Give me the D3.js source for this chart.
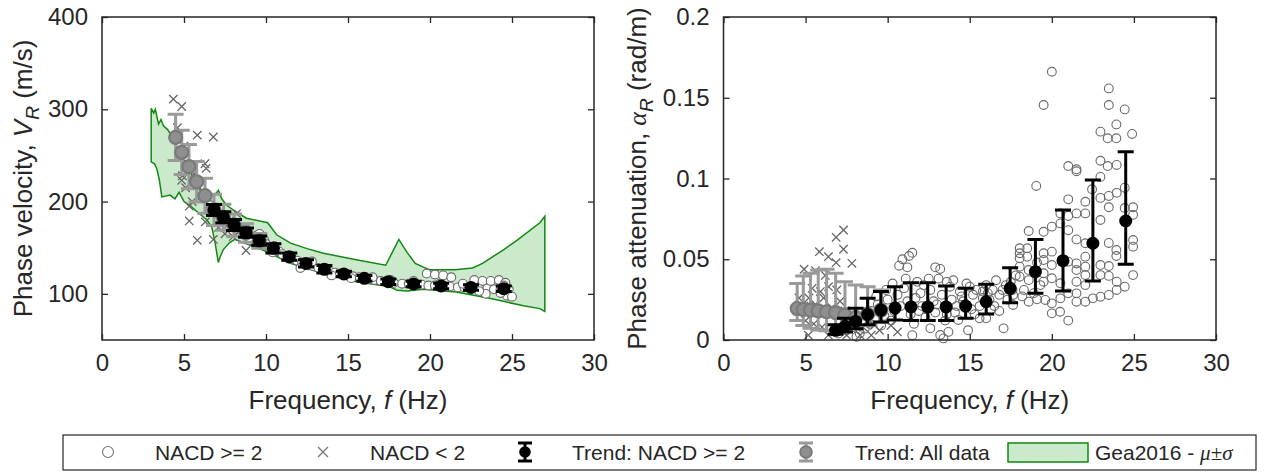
<!DOCTYPE html>
<html>
<head>
<meta charset="utf-8">
<script src="https://cdn.jsdelivr.net/npm/d3@7"></script>
<style>
  body { margin: 0; background: #fff; }
  svg { font-family: "Liberation Sans", Arial, sans-serif; }
</style>
</head>
<body>
<svg id="fig" width="1266" height="472"></svg>
<script>
// ---- data ----
const xTicks = [0, 5, 10, 15, 20, 25, 30];
const vTicks = [100, 200, 300, 400];
const aTicks = [0, 0.05, 0.1, 0.15, 0.2];

// Gea2016 mu +/- sigma band (left panel)
const geaUpper = [[3.0,301],[3.15,296],[3.25,300],[3.45,284],[3.6,289],[3.75,282],[4.0,278],[4.3,270],[4.6,258],[5.0,245],[5.5,228],[6.0,214],[6.5,204],[6.9,208],[7.1,212],[7.3,203],[7.6,196],[8.0,191],[8.8,182],[10.1,177],[10.65,164],[11.5,155],[12.5,149],[13.5,144],[15.5,137],[17.3,131],[18.1,159],[18.6,145],[19.1,133],[19.6,129],[20.0,126],[21.5,126],[22.6,128],[23.2,133],[24.5,148],[25.3,158],[26.7,177],[27.0,184]];
const geaLower = [[27.0,81],[26.7,84],[25.7,87],[23.7,95],[21.6,102],[19.6,105],[18.6,103],[18.0,104],[17.5,108],[15.5,113],[13.5,122],[11.5,133],[10.0,146],[9.0,153],[8.1,159],[7.75,155],[7.4,148],[7.2,140],[7.09,134],[6.9,155],[6.7,172],[6.4,180],[6.0,186],[5.4,195],[5.0,200],[4.7,210],[4.45,203],[4.15,207],[3.65,205],[3.5,223],[3.35,235],[3.2,241],[3.0,243]];

// trend: NACD >= 2
const trendF = [6.83,7.40,8.05,8.78,9.59,10.45,11.42,12.44,13.56,14.75,16.0,17.46,19.0,20.68,22.5,24.5];
const trendV = [190.9,183,174.6,166.3,157.6,149.3,140.3,133,126.6,121.5,116.8,113.2,110.7,108.5,107,105.6];
const trendVsd = [6,6,6,5,5,5,4,4,4,3,3,3,3,3,3,3];
const trendA = [0.006,0.0085,0.0115,0.0158,0.0185,0.0198,0.0205,0.0205,0.0205,0.021,0.0237,0.032,0.0423,0.0491,0.0599,0.0737];
const trendAlo = [0.0035,0.005,0.007,0.0095,0.0112,0.0124,0.012,0.012,0.012,0.0134,0.0161,0.0231,0.0289,0.0303,0.0365,0.0469];
const trendAhi = [0.0095,0.0135,0.0196,0.0258,0.030,0.033,0.0355,0.0355,0.0334,0.032,0.0345,0.0448,0.0623,0.0805,0.099,0.1166];

// trend: all data
const allF = [4.49,4.86,5.30,5.77,6.28,6.83,7.40,8.05,8.78,9.59];
const allV = [269.6,253.4,237.8,221.5,206.4,191,183,174.5,166,157.5];
const allVsd = [25,24,24,22,19,17,14,12,10,8];
const allA = [0.0195,0.019,0.0185,0.018,0.0175,0.017,0.0155,0.014,0.016,0.0185];
const allAlo = [0.012,0.009,0.0072,0.0062,0.0058,0.006,0.0065,0.0075,0.009,0.011];
const allAhi = [0.035,0.0396,0.0413,0.0433,0.0438,0.0413,0.036,0.034,0.033,0.031];

// individual measurements, NACD >= 2  [f, V]
const goodV = [[6.6,196],[6.9,188],[7.1,186],[7.2,192],[7.5,180],[7.7,178],[7.9,176],[8.2,171],[8.4,170],[8.6,168],[8.9,163],[9.1,162],[9.3,160],[9.7,155],[9.9,158],[10.1,152],[10.3,150],[10.6,147],[10.8,146],[11.0,143],[11.3,141],[11.6,138],[11.9,136],[12.2,134],[12.6,131],[12.9,130],[13.2,128],[13.5,127],[13.9,124],[14.2,123],[14.5,122],[14.9,120],[15.3,119],[15.7,118],[16.2,116],[16.6,115],[17.0,114],[17.4,113],[17.8,112],[18.3,111],[18.7,111],[19.1,110],[19.5,110],[19.9,109],[20.3,109],[20.8,108],[21.2,108],[21.7,107],[22.1,107],[22.6,106],[23.0,106],[23.5,106],[23.9,105],[24.3,105],[24.8,105],[19.8,122],[20.3,121],[20.8,120],[21.3,118],[22.7,115],[23.2,114],[23.7,114],[24.2,115],[24.6,112],[24.7,98],[25.0,97],[24.3,101],[23.4,100],[20.6,111],[19.0,114],[15.2,117],[14.0,120],[12.8,135],[12.1,128],[10.5,152],[9.4,163],[8.8,170],[11.4,138],[16.5,118],[17.6,115],[22.0,111],[23.0,103],[24.5,109],[8.0,168],[9.0,158],[10.0,154],[9.6,165],[10.4,145]];
// individual measurements, NACD >= 2  [f, alpha]
const goodA = [[7.0,0.004],[7.5,0.006],[7.9,0.008],[8.1,0.002],[8.4,0.011],[8.3,0.004],[8.6,0.007],[8.9,0.010],[9.2,0.013],[9.0,0.018],[9.4,0.022],[9.6,0.009],[9.8,0.015],[10.0,0.025],[10.2,0.012],[10.4,0.018],[10.6,0.028],[10.7,0.046],[10.9,0.050],[11.2,0.045],[11.3,0.052],[11.5,0.054],[11.0,0.032],[11.2,0.024],[11.4,0.016],[11.5,0.003],[11.6,0.010],[11.8,0.036],[12.0,0.029],[12.1,0.021],[12.3,0.014],[12.5,0.038],[12.6,0.031],[12.6,0.0072],[12.8,0.024],[12.9,0.017],[13.1,0.038],[13.2,0.044],[13.2,0.0031],[13.3,0.028],[13.4,0.001],[13.5,0.012],[13.7,0.005],[13.8,0.033],[13.9,0.025],[14.0,0.037],[14.1,0.017],[14.3,0.0124],[14.4,0.030],[14.6,0.024],[14.8,0.035],[14.9,0.006],[15.1,0.019],[15.2,0.028],[15.4,0.031],[15.6,0.021],[15.6,0.0134],[15.8,0.026],[16.0,0.034],[16.0,0.0134],[16.1,0.029],[16.3,0.019],[16.5,0.021],[16.6,0.037],[16.8,0.028],[17.0,0.031],[17.06,0.0072],[17.3,0.025],[17.5,0.036],[17.64,0.0279],[17.64,0.0217],[17.8,0.040],[18.04,0.0568],[18.04,0.0537],[18.04,0.0506],[18.04,0.0454],[18.04,0.0392],[18.3,0.031],[18.5,0.0568],[18.5,0.0516],[18.59,0.0675],[18.59,0.0433],[18.59,0.0371],[18.59,0.0237],[19.05,0.0954],[19.1,0.0252],[19.1,0.048],[19.3,0.034],[19.5,0.1455],[19.5,0.067],[19.5,0.0537],[19.5,0.0495],[19.5,0.0413],[19.5,0.0361],[19.6,0.0248],[20.0,0.1661],[20.0,0.0702],[20.0,0.0547],[20.0,0.0464],[20.0,0.0382],[20.0,0.0227],[20.0,0.0165],[20.52,0.0722],[20.52,0.0784],[20.52,0.0351],[20.52,0.0258],[20.5,0.0175],[21.0,0.1077],[21.0,0.0871],[21.0,0.0768],[21.0,0.068],[21.0,0.0485],[21.0,0.0289],[21.0,0.012],[21.5,0.1057],[21.5,0.1045],[21.5,0.0784],[21.5,0.0623],[21.5,0.0474],[21.5,0.0433],[21.5,0.0361],[21.5,0.0289],[21.5,0.0237],[22.04,0.0856],[22.04,0.0784],[22.04,0.0599],[22.04,0.0516],[22.04,0.0454],[22.04,0.0402],[22.04,0.034],[22.04,0.0237],[22.45,0.0933],[22.5,0.0258],[22.96,0.129],[22.96,0.111],[22.96,0.101],[22.96,0.088],[22.96,0.0743],[22.96,0.0464],[22.96,0.0402],[22.96,0.0268],[23.47,0.1558],[23.47,0.1455],[23.4,0.1249],[23.4,0.1077],[23.47,0.0892],[23.47,0.0822],[23.47,0.0601],[23.47,0.0458],[23.47,0.0397],[23.47,0.0279],[23.93,0.1335],[23.93,0.1249],[23.95,0.1084],[23.95,0.0911],[23.93,0.0557],[23.93,0.052],[23.95,0.0361],[23.95,0.031],[24.44,0.1428],[24.44,0.0943],[24.44,0.0817],[24.44,0.033],[24.89,0.1276],[24.95,0.0822],[24.95,0.0775],[24.95,0.0619],[24.95,0.0578],[24.95,0.0402],
  [9.3,0.027],[9.9,0.031],[10.3,0.035],[10.8,0.021],[11.1,0.038],[11.7,0.026],[12.2,0.034],[12.4,0.019],[13.0,0.022],[13.6,0.036],[13.6,0.016],[14.2,0.021],[14.5,0.027],[15.0,0.033],[15.3,0.016],[15.8,0.030],[16.2,0.025],[16.8,0.018],[17.2,0.034],[17.6,0.031],[18.2,0.027],[18.9,0.029],[16.4,0.031],[12.9,0.045],[11.9,0.018]];

// individual measurements, NACD < 2
const badV = [[4.35,311],[4.86,303],[5.81,272],[6.79,270],[6.28,241],[6.35,236],[4.86,223],[5.1,215],[5.32,195],[5.32,179],[5.81,158],[6.3,178],[6.79,159],[7.1,172],[7.7,175],[8.21,187],[8.78,147],[7.5,165],[6.0,205],[5.6,230],[6.6,190],[7.3,185],[8.0,162],[5.5,200],[6.1,210],[4.6,280],[5.0,260],[4.9,228]];
const badA = [[4.91,0.0438],[5.84,0.0547],[6.39,0.0516],[6.86,0.0479],[6.86,0.0636],[7.31,0.0681],[7.31,0.0562],[7.82,0.0475],[5.17,0.003],[6.39,0.003],[8.32,0.003],[9.0,0.003],[10.6,0.005],[4.6,0.026],[4.9,0.021],[5.2,0.026],[5.4,0.032],[5.6,0.022],[5.9,0.030],[6.1,0.026],[6.4,0.033],[6.6,0.020],[6.9,0.031],[7.1,0.024],[7.4,0.018],[7.7,0.014],[8.0,0.011],[8.5,0.008],[9.5,0.006],[5.0,0.012],[5.5,0.010],[6.0,0.008],[6.8,0.005],[7.5,0.003],[4.5,0.018],[8.8,0.012],[9.2,0.009],[10.2,0.009],[6.2,0.040],[5.6,0.043]];

// ---- drawing ----
const svg = d3.select('#fig');
const ink = '#262626';
const plotTop = 17, plotBottom = 340;

function drawAxes(g, x, y, yTickVals, yFmt) {
  const xr = x.range(), yr = y.range();
  g.append('g').attr('transform', `translate(0,${yr[0]})`)
    .call(d3.axisBottom(x).tickValues(xTicks).tickSizeInner(-6).tickSizeOuter(0).tickPadding(14));
  g.append('g').attr('transform', `translate(0,${yr[1]})`)
    .call(d3.axisTop(x).tickValues(xTicks).tickSizeInner(-6).tickSizeOuter(0).tickFormat(''));
  g.append('g').attr('transform', `translate(${xr[0]},0)`)
    .call(d3.axisLeft(y).tickValues(yTickVals).tickSizeInner(-6).tickSizeOuter(0).tickPadding(14).tickFormat(yFmt));
  g.append('g').attr('transform', `translate(${xr[1]},0)`)
    .call(d3.axisRight(y).tickValues(yTickVals).tickSizeInner(-6).tickSizeOuter(0).tickFormat(''));
  g.selectAll('.domain').remove();
  g.selectAll('.tick line').attr('stroke', ink).attr('stroke-width', 1.3);
  g.selectAll('.tick text').attr('fill', ink).style('font-size', '24px')
    .style('font-family', '"Liberation Sans", Arial, sans-serif');
  g.append('rect')
    .attr('x', xr[0]).attr('y', yr[1])
    .attr('width', xr[1] - xr[0]).attr('height', yr[0] - yr[1])
    .attr('fill', 'none').attr('stroke', ink).attr('stroke-width', 1.5);
}

function drawCircles(g, x, y, pts, fill) {
  g.append('g').selectAll('circle').data(pts).enter().append('circle')
    .attr('cx', d => x(d[0])).attr('cy', d => y(d[1])).attr('r', 4.4)
    .attr('fill', fill).attr('stroke', '#6a6a6a').attr('stroke-width', 1.1);
}

function drawCrosses(g, x, y, pts) {
  const s = 4.2;
  g.append('g').selectAll('path').data(pts).enter().append('path')
    .attr('d', d => {
      const cx = x(d[0]), cy = y(d[1]);
      return `M${cx - s},${cy - s}L${cx + s},${cy + s}M${cx - s},${cy + s}L${cx + s},${cy - s}`;
    })
    .attr('stroke', '#666').attr('stroke-width', 1.3).attr('fill', 'none');
}

function drawTrend(g, x, y, fs, mid, lo, hi, lineCol, dotFill, dotStroke) {
  const cap = 8;
  const rows = fs.map((f, i) => ({ f: f, m: mid[i], lo: lo[i], hi: hi[i] }));
  const eb = g.append('g').attr('stroke', lineCol).attr('stroke-width', 3).attr('fill', 'none');
  eb.selectAll('path').data(rows).enter().append('path')
    .attr('d', d => {
      const cx = x(d.f), y0 = y(d.lo), y1 = y(d.hi);
      return `M${cx},${y0}L${cx},${y1}M${cx - cap},${y0}L${cx + cap},${y0}M${cx - cap},${y1}L${cx + cap},${y1}`;
    });
  g.append('g').selectAll('circle').data(rows).enter().append('circle')
    .attr('cx', d => x(d.f)).attr('cy', d => y(d.m)).attr('r', 6.5)
    .attr('fill', dotFill).attr('stroke', dotStroke).attr('stroke-width', dotStroke === 'none' ? 0 : 2.2);
}

// left panel: phase velocity
const xL = d3.scaleLinear().domain([0, 30]).range([102, 594]);
const yL = d3.scaleLinear().domain([50, 400]).range([plotBottom, plotTop]);
const gL = svg.append('g');

const bandPts = geaUpper.concat(geaLower);
gL.append('path')
  .attr('d', d3.line().x(d => xL(d[0])).y(d => yL(d[1]))(bandPts) + 'Z')
  .attr('fill', '#cbeacb').attr('stroke', '#118811').attr('stroke-width', 1.5);
drawCircles(gL, xL, yL, goodV, '#ffffff');
drawCrosses(gL, xL, yL, badV);
drawTrend(gL, xL, yL, allF, allV, allV.map((v, i) => v - allVsd[i]), allV.map((v, i) => v + allVsd[i]), '#9a9a9a', '#8f8f8f', '#7a7a7a');
drawTrend(gL, xL, yL, trendF, trendV, trendV.map((v, i) => v - trendVsd[i]), trendV.map((v, i) => v + trendVsd[i]), '#000', '#000', 'none');
drawAxes(gL, xL, yL, vTicks, d3.format('d'));

// right panel: phase attenuation
const xR = d3.scaleLinear().domain([0, 30]).range([723.5, 1216]);
const yR = d3.scaleLinear().domain([0, 0.2]).range([plotBottom, plotTop]);
const gR = svg.append('g');
drawCircles(gR, xR, yR, goodA, 'none');
drawCrosses(gR, xR, yR, badA);
drawTrend(gR, xR, yR, allF, allA, allAlo, allAhi, '#9a9a9a', '#8f8f8f', '#7a7a7a');
drawTrend(gR, xR, yR, trendF, trendA, trendAlo, trendAhi, '#000', '#000', 'none');
drawAxes(gR, xR, yR, aTicks, d => String(d));

// axis titles
function xTitle(cx) {
  const t = svg.append('text').attr('x', cx).attr('y', 409).attr('text-anchor', 'middle')
    .attr('fill', ink).style('font-size', '26px');
  t.append('tspan').text('Frequency, ');
  t.append('tspan').style('font-style', 'italic').text('f');
  t.append('tspan').text(' (Hz)');
}
xTitle((102 + 594) / 2);
xTitle((723.5 + 1216) / 2);

const tl = svg.append('text').attr('transform', `translate(32,${(plotTop + plotBottom) / 2}) rotate(-90)`)
  .attr('text-anchor', 'middle').attr('fill', ink).style('font-size', '26px');
tl.append('tspan').text('Phase velocity, ');
tl.append('tspan').style('font-style', 'italic').text('V');
tl.append('tspan').style('font-style', 'italic').style('font-size', '19px').attr('dy', 7).text('R');
tl.append('tspan').attr('dy', -7).text(' (m/s)');

const tr = svg.append('text').attr('transform', `translate(646,${(plotTop + plotBottom) / 2}) rotate(-90)`)
  .attr('text-anchor', 'middle').attr('fill', ink).style('font-size', '26px');
tr.append('tspan').text('Phase attenuation, ');
tr.append('tspan').style('font-style', 'italic').style('font-family', '"Liberation Serif", "Times New Roman", serif').text('α');
tr.append('tspan').style('font-style', 'italic').style('font-size', '19px').attr('dy', 7).text('R');
tr.append('tspan').attr('dy', -7).text(' (rad/m)');

// legend
const lg = svg.append('g');
lg.append('rect').attr('x', 63).attr('y', 435).attr('width', 1193).attr('height', 35)
  .attr('fill', '#fff').attr('stroke', ink).attr('stroke-width', 1.2);
const ly = 452;
lg.append('circle').attr('cx', 108).attr('cy', ly).attr('r', 5.5)
  .attr('fill', 'none').attr('stroke', '#7a7a7a').attr('stroke-width', 1.2);
lg.append('path').attr('d', `M${318},${ly - 5}L${328},${ly + 5}M${318},${ly + 5}L${328},${ly - 5}`)
  .attr('stroke', '#7a7a7a').attr('stroke-width', 1.4);
function legendBar(cx, col, fill, stroke) {
  lg.append('path').attr('d', `M${cx},${ly - 9}L${cx},${ly + 9}M${cx - 7},${ly - 9}L${cx + 7},${ly - 9}M${cx - 7},${ly + 9}L${cx + 7},${ly + 9}`)
    .attr('stroke', col).attr('stroke-width', 3);
  lg.append('circle').attr('cx', cx).attr('cy', ly).attr('r', 5.8)
    .attr('fill', fill).attr('stroke', stroke).attr('stroke-width', stroke === 'none' ? 0 : 2);
}
legendBar(525, '#000', '#000', 'none');
legendBar(806, '#9a9a9a', '#8f8f8f', '#7a7a7a');
lg.append('rect').attr('x', 1008).attr('y', 443).attr('width', 80).attr('height', 19)
  .attr('fill', '#cbeacb').attr('stroke', '#118811').attr('stroke-width', 1.5);

const legTexts = [[155, 'NACD >= 2'], [370, 'NACD < 2'], [572, 'Trend: NACD >= 2'], [855, 'Trend: All data']];
lg.selectAll('text.lt').data(legTexts).enter().append('text').attr('class', 'lt')
  .attr('x', d => d[0]).attr('y', ly + 8).attr('fill', ink).style('font-size', '21px').text(d => d[1]);
const gt = lg.append('text').attr('x', 1095).attr('y', ly + 8).attr('fill', ink).style('font-size', '21px');
gt.append('tspan').text('Gea2016 - ');
gt.append('tspan').style('font-family', '"Liberation Serif", "Times New Roman", serif').style('font-style', 'italic').text('μ');
gt.append('tspan').style('font-family', '"Liberation Serif", "Times New Roman", serif').text('±');
gt.append('tspan').style('font-family', '"Liberation Serif", "Times New Roman", serif').style('font-style', 'italic').text('σ');
</script>
</body>
</html>
